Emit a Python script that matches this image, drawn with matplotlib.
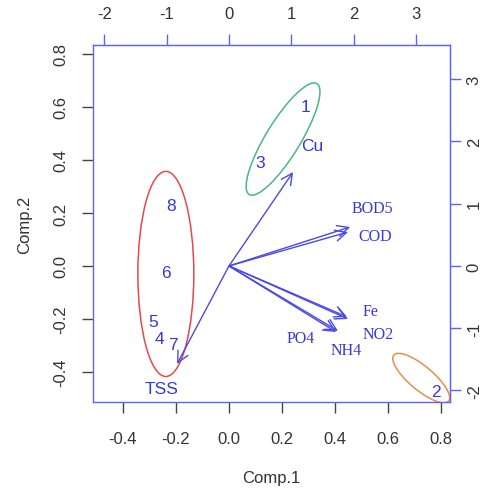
import numpy as np
import matplotlib
matplotlib.use('Agg')
import matplotlib.pyplot as plt
from matplotlib.patches import Ellipse

plt.rcParams['font.family'] = ['Liberation Sans', 'DejaVu Sans']
plt.rcParams['axes.unicode_minus'] = False

# observation scores (bottom / left scale)
obs_labels = ['1', '2', '3', '4', '5', '6', '7', '8']
obs_x = [0.287, 0.781, 0.117, -0.264, -0.287, -0.238, -0.211, -0.219]
obs_y = [0.600, -0.472, 0.392, -0.275, -0.208, -0.023, -0.298, 0.230]

# variable arrows (top / right scale)
var_names = ['TSS', 'Cu', 'BOD5', 'COD', 'Fe', 'NO2', 'PO4', 'NH4']
arrow_x = [-0.834, 1.03, 1.945, 1.911, 1.894, 1.911, 1.72, 1.75]
arrow_y = [-1.575, 1.51, 0.626, 0.545, -0.817, -0.851, -1.06, -1.043]
label_x = [-1.077, 1.332, 2.299, 2.346, 2.265, 2.392, 1.158, 1.882]
label_y = [-1.975, 1.928, 0.932, 0.481, -0.724, -1.094, -1.158, -1.349]
label_serif = [False, False, True, True, True, True, True, True]

# group ellipses (bottom / left scale)
ell_cx = [-0.238, 0.204, 0.725]
ell_cy = [-0.030, 0.479, -0.423]
ell_w = [0.211, 0.49, 0.27]
ell_h = [0.774, 0.13, 0.09]
ell_ang = [0, 58.6, -40]
ell_col = ['#e8474f', '#4cb585', '#e0914a']

k = 4.257  # ratio of top/right scale to bottom/left scale
lim = (-0.513, 0.834)

txt_blue = '#3838d8'
arr_blue = '#4a4ae6'
box_blue = '#6262f2'
tick_col = '#333333'

fig = plt.figure(figsize=(4.84, 4.89), dpi=100)
ax = fig.add_axes([0.192, 0.176, 0.738, 0.730])
ax.set_xlim(lim)
ax.set_ylim(lim)

for s in ax.spines.values():
	s.set_color(box_blue)
	s.set_linewidth(1.0)

ticks = np.arange(-0.4, 0.81, 0.2)
ax.set_xticks(ticks)
ax.set_yticks(ticks)
ax.set_xticklabels(['%.1f' % v for v in ticks])
ax.set_yticklabels(['%.1f' % v for v in ticks], rotation=90, va='center')
ax.tick_params(axis='x', length=8, width=1, color='#444444', labelcolor=tick_col, labelsize=12, pad=13)
ax.tick_params(axis='y', length=8, width=1, color='#444444', labelcolor=tick_col, labelsize=12, pad=10)

top = ax.secondary_xaxis('top', functions=(lambda x: x * k, lambda x: x / k))
right = ax.secondary_yaxis('right', functions=(lambda y: y * k, lambda y: y / k))
top.set_xticks([-2, -1, 0, 1, 2, 3])
top.set_xticklabels(['-2', '-1', '0', '1', '2', '3'])
right.set_yticks([-2, -1, 0, 1, 2, 3])
right.set_yticklabels(['-2', '-1', '0', '1', '2', '3'], rotation=90, va='center')
top.tick_params(length=8, width=1, color=box_blue, labelcolor=tick_col, labelsize=12, pad=9)
right.tick_params(length=8, width=1, color=box_blue, labelcolor=tick_col, labelsize=12, pad=4)
for sa in (top, right):
	for s in sa.spines.values():
		s.set_color(box_blue)

ax.set_xlabel('Comp.1', fontsize=12, color=tick_col, labelpad=17)
ax.set_ylabel('Comp.2', fontsize=12, color=tick_col, labelpad=15)

# ellipses
for cx, cy, w, h, a, c in zip(ell_cx, ell_cy, ell_w, ell_h, ell_ang, ell_col):
	ax.add_patch(Ellipse((cx, cy), w, h, angle=a, fill=False, edgecolor=c, linewidth=1.1))

# arrows
for xv, yv in zip(arrow_x, arrow_y):
	ax.annotate('', xy=(xv / k, yv / k), xytext=(0, 0),
		arrowprops=dict(arrowstyle='->,head_length=0.8,head_width=0.4', color=arr_blue,
			lw=1.0, shrinkA=0, shrinkB=0, mutation_scale=10))

# variable labels
for name, xv, yv, serif in zip(var_names, label_x, label_y, label_serif):
	if serif:
		ax.text(xv / k, yv / k, name, ha='center', va='center', color=txt_blue,
			fontsize=11.5, family='Liberation Serif')
	else:
		ax.text(xv / k, yv / k, name, ha='center', va='center', color=txt_blue,
			fontsize=12.5)

# observation labels
for lab, xv, yv in zip(obs_labels, obs_x, obs_y):
	ax.text(xv, yv, lab, ha='center', va='center', color=txt_blue, fontsize=12.5)

fig.savefig('out.png', dpi=100)
